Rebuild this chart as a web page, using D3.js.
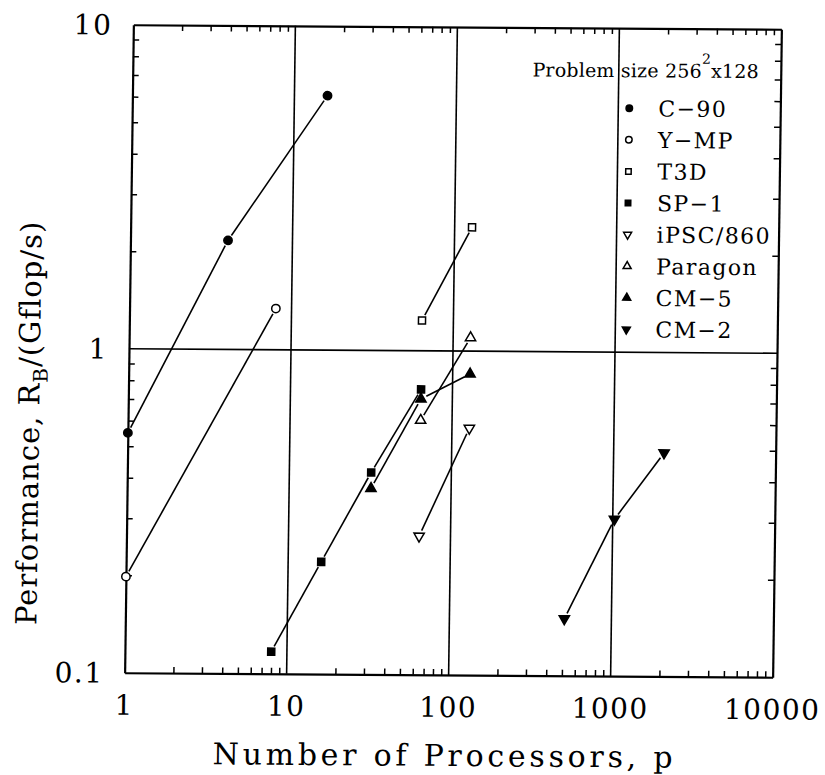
<!DOCTYPE html>
<html>
<head>
<meta charset="utf-8">
<script src="https://cdn.jsdelivr.net/npm/d3@7"></script>
<style>
  body { margin: 0; background: #fff; }
  svg { display: block; }
</style>
</head>
<body>
<script>
// Data
const systems = ['C-90', 'Y-MP', 'T3D', 'SP-1', 'iPSC/860', 'Paragon', 'CM-5', 'CM-2'];
const procC90 = [1, 4, 16];          const perfC90 = [0.55, 2.17, 6.1];
const procYMP = [1, 8];              const perfYMP = [0.198, 1.34];
const procT3D = [64, 128];           const perfT3D = [1.24, 2.41];
const procSP1 = [8, 16, 32, 64];     const perfSP1 = [0.117, 0.222, 0.42, 0.76];
const procIPSC = [64, 128];          const perfIPSC = [0.268, 0.578];
const procParagon = [64, 128];       const perfParagon = [0.61, 1.10];
const procCM5 = [32, 64, 128];       const perfCM5 = [0.375, 0.71, 0.85];
const procCM2 = [512, 1024, 2048];   const perfCM2 = [0.15, 0.305, 0.49];
const xTickLabels = [1, 10, 100, 1000, 10000];
const yTickLabels = [0.1, 1, 10];

const series = [
  { name: systems[0], p: procC90, r: perfC90, shape: 'circle', fill: true },
  { name: systems[1], p: procYMP, r: perfYMP, shape: 'circle', fill: false },
  { name: systems[2], p: procT3D, r: perfT3D, shape: 'square', fill: false },
  { name: systems[3], p: procSP1, r: perfSP1, shape: 'square', fill: true },
  { name: systems[4], p: procIPSC, r: perfIPSC, shape: 'down', fill: false },
  { name: systems[5], p: procParagon, r: perfParagon, shape: 'up', fill: false },
  { name: systems[6], p: procCM5, r: perfCM5, shape: 'up', fill: true },
  { name: systems[7], p: procCM2, r: perfCM2, shape: 'down', fill: true }
];

const W = 825, H = 775;
const plotLeft = 129, plotTop = 27, plotSize = 648;
const font = '"DejaVu Serif", serif';

const svg = d3.select('body').append('svg')
  .attr('width', W).attr('height', H);

// the scan is slightly skewed: verticals lean right at the top, horizontals drop to the right
const g = svg.append('g').attr('transform', 'matrix(1,0.007,-0.0135,1,4.74,-3.17)');

const x = d3.scaleLog().domain([1, 10000]).range([plotLeft, plotLeft + plotSize]);
const y = d3.scaleLog().domain([0.1, 10]).range([plotTop + plotSize, plotTop]);

// Grid lines at the decades
g.selectAll('.vgrid').data([10, 100, 1000]).enter().append('line')
  .attr('x1', d => x(d)).attr('x2', d => x(d))
  .attr('y1', plotTop).attr('y2', plotTop + plotSize)
  .attr('stroke', '#000').attr('stroke-width', 1.6);
g.selectAll('.hgrid').data([1]).enter().append('line')
  .attr('x1', plotLeft).attr('x2', plotLeft + plotSize)
  .attr('y1', d => y(d)).attr('y2', d => y(d))
  .attr('stroke', '#000').attr('stroke-width', 1.6);

// Minor ticks on all four sides, pointing in
const xMinor = x.ticks().filter(v => !xTickLabels.includes(v));
const yMinor = y.ticks().filter(v => !yTickLabels.includes(v));

function styleAxis(sel) {
  sel.select('.domain').attr('stroke', '#000').attr('stroke-width', 2.2);
  sel.selectAll('.tick line').attr('stroke', '#000').attr('stroke-width', 1.5);
  sel.selectAll('.tick text').remove();
}

g.append('g').attr('transform', `translate(0,${plotTop + plotSize})`)
  .call(d3.axisBottom(x).tickValues(xMinor).tickSize(-6).tickSizeOuter(0))
  .call(styleAxis);
g.append('g').attr('transform', `translate(0,${plotTop})`)
  .call(d3.axisTop(x).tickValues(xMinor).tickSize(-6).tickSizeOuter(0))
  .call(styleAxis);
g.append('g').attr('transform', `translate(${plotLeft},0)`)
  .call(d3.axisLeft(y).tickValues(yMinor).tickSize(-6).tickSizeOuter(0))
  .call(styleAxis);
g.append('g').attr('transform', `translate(${plotLeft + plotSize},0)`)
  .call(d3.axisRight(y).tickValues(yMinor).tickSize(-6).tickSizeOuter(0))
  .call(styleAxis);

// Tick labels
g.selectAll('.xlab').data(xTickLabels).enter().append('text')
  .attr('x', d => x(d)).attr('y', 717)
  .attr('text-anchor', 'middle')
  .attr('font-family', font).attr('font-size', 28)
  .attr('letter-spacing', 1.5)
  .text(d => d);
g.selectAll('.ylab').data(yTickLabels).enter().append('text')
  .attr('x', 108).attr('y', d => y(d) + 10)
  .attr('text-anchor', 'end')
  .attr('font-family', font).attr('font-size', 28)
  .attr('letter-spacing', 1.5)
  .text(d => d);

// Axis titles
g.append('text')
  .attr('x', 448).attr('y', 766)
  .attr('text-anchor', 'middle')
  .attr('font-family', font).attr('font-size', 30)
  .attr('textLength', 460).attr('lengthAdjust', 'spacing')
  .text('Number of Processors, p');

const yt = g.append('text')
  .attr('transform', 'translate(40,628) rotate(-90)')
  .attr('text-anchor', 'start')
  .attr('font-family', font).attr('font-size', 29)
  .attr('letter-spacing', 1);
yt.append('tspan').text('Performance, R');
yt.append('tspan').attr('font-size', 20).attr('dy', 8).text('B');
yt.append('tspan').attr('dy', -8).text('/(Gflop/s)');

// Marker helper
function marker(sel, shape, fill, scale) {
  const area = { circle: 55, square: 50, up: 46, down: 46 }[shape] * scale;
  const type = shape === 'circle' ? d3.symbolCircle
    : shape === 'square' ? d3.symbolSquare : d3.symbolTriangle;
  sel.append('path')
    .attr('d', d3.symbol().type(type).size(area)())
    .attr('transform', shape === 'down' ? 'rotate(180)' : null)
    .attr('fill', fill ? '#000' : '#fff')
    .attr('stroke', '#000').attr('stroke-width', 1.5);
}

// Lines and markers
const gap = 6;
series.forEach(s => {
  const pts = s.p.map((p, i) => [x(p), y(s.r[i])]);
  for (let i = 0; i < pts.length - 1; i++) {
    const [x1, y1] = pts[i], [x2, y2] = pts[i + 1];
    const len = Math.hypot(x2 - x1, y2 - y1);
    const ux = (x2 - x1) / len, uy = (y2 - y1) / len;
    g.append('line')
      .attr('x1', x1 + ux * gap).attr('y1', y1 + uy * gap)
      .attr('x2', x2 - ux * gap).attr('y2', y2 - uy * gap)
      .attr('stroke', '#000').attr('stroke-width', 1.6);
  }
  pts.forEach(pt => {
    const m = g.append('g').attr('transform', `translate(${pt[0]},${pt[1]})`);
    marker(m, s.shape, s.fill, 1);
  });
});

// Legend
const legTitle = g.append('text')
  .attr('x', 755).attr('y', 76)
  .attr('text-anchor', 'end')
  .attr('font-family', font).attr('font-size', 19)
  .attr('letter-spacing', 0.2);
legTitle.append('tspan').text('Problem size 256');
legTitle.append('tspan').attr('font-size', 14).attr('dy', -14).text('2');
legTitle.append('tspan').attr('dy', 14).text('x128');

series.forEach((s, i) => {
  const ly = 107 + i * 31.6;
  const m = g.append('g').attr('transform', `translate(626,${ly})`);
  marker(m, s.shape, s.fill, 0.6);
  g.append('text')
    .attr('x', 655).attr('y', ly + 8)
    .attr('font-family', font).attr('font-size', 22)
    .attr('letter-spacing', 1.4)
    .text(s.name.replace('-', '\u2212'));
});
</script>
</body>
</html>
